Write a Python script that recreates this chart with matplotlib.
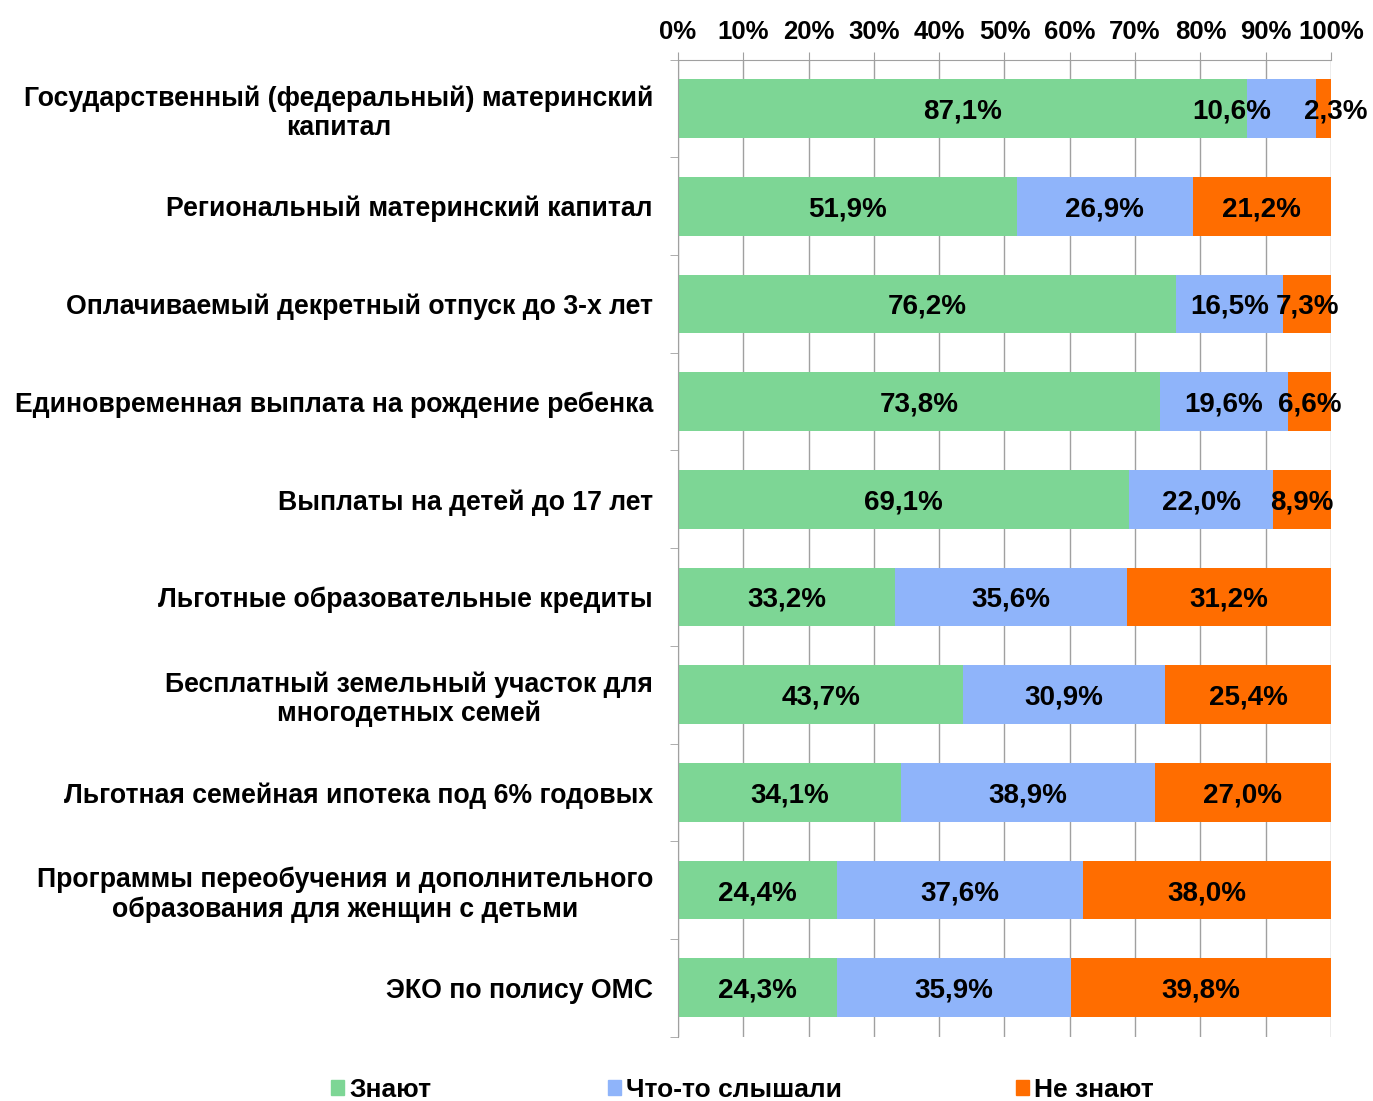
import matplotlib.pyplot as plt
from matplotlib.patches import Patch
import numpy as np

plt.rcParams['font.family'] = ['Liberation Sans', 'DejaVu Sans']
plt.rcParams['font.weight'] = 'bold'

# categories, top to bottom
categories = [
    "Государственный (федеральный) материнский\nкапитал",
    "Региональный материнский капитал",
    "Оплачиваемый декретный отпуск до 3-х лет",
    "Единовременная выплата на рождение ребенка",
    "Выплаты на детей до 17 лет",
    "Льготные образовательные кредиты",
    "Бесплатный земельный участок для\nмногодетных семей",
    "Льготная семейная ипотека под 6% годовых",
    "Программы переобучения и дополнительного\nобразования для женщин с детьми",
    "ЭКО по полису ОМС",
]
know = [87.1, 51.9, 76.2, 73.8, 69.1, 33.2, 43.7, 34.1, 24.4, 24.3]
heard = [10.6, 26.9, 16.5, 19.6, 22.0, 35.6, 30.9, 38.9, 37.6, 35.9]
dont_know = [2.3, 21.2, 7.3, 6.6, 8.9, 31.2, 25.4, 27.0, 38.0, 39.8]
series_names = ["Знают", "Что-то слышали", "Не знают"]
colors = ["#7dd695", "#8fb4fa", "#ff6d00"]

# labels moved aside where they would overlap (row, series) -> shift in %
label_shift = {(0, 1): -7.6, (0, 2): 1.9}

fig = plt.figure(figsize=(13.73, 11.01), dpi=100)
ax = fig.add_axes([0.4938, 0.0585, 0.4756, 0.8873])

y = np.arange(len(categories))
left = np.zeros(len(categories))
for s, (vals, col) in enumerate(zip([know, heard, dont_know], colors)):
    vals = np.array(vals)
    ax.barh(y, vals, left=left, height=0.6, color=col, zorder=2)
    for i, v in enumerate(vals):
        xc = left[i] + v / 2 + label_shift.get((i, s), 0)
        ax.text(xc, y[i], f"{v:.1f}%".replace(".", ","), ha="center",
                va="center_baseline", fontsize=20, fontweight="bold", zorder=3)
    left += vals

ax.set_xlim(0, 100)
ax.set_ylim(len(categories) - 0.5, -0.5)
ax.set_xticks(np.arange(0, 101, 10))
ax.set_xticklabels([f"{t}%" for t in range(0, 101, 10)], fontsize=18.5, fontweight="bold")
ax.xaxis.tick_top()
ax.tick_params(axis="x", length=6, color="#a0a0a0", pad=5.5)
ax.grid(axis="x", color="#a0a0a0", linewidth=1, zorder=0)

ax.set_yticks(y)
ax.set_yticklabels(categories, fontsize=19.2, fontweight="bold")
for lbl in ax.get_yticklabels():
    lbl.set_multialignment("center")
    lbl.set_linespacing(1.15)
ax.tick_params(axis="y", length=0, pad=18)
ax.set_yticks(np.arange(-0.5, len(categories)), minor=True)
ax.tick_params(axis="y", which="minor", length=6, color="#a0a0a0")

for side in ["right", "bottom"]:
    ax.spines[side].set_visible(False)
for side in ["left", "top"]:
    ax.spines[side].set_color("#a0a0a0")

# legend at bottom
legend_x = [0.2236, 0.4253, 0.7225]
for name, col, lx in zip(series_names, colors, legend_x):
    fig.legend(handles=[Patch(color=col)], labels=[name], loc="center left",
               bbox_to_anchor=(lx, 0.01), frameon=False,
               handlelength=0.5, handleheight=0.5, handletextpad=0.2,
               prop={"weight": "bold", "size": 19})

fig.savefig("out.png", dpi=100)
